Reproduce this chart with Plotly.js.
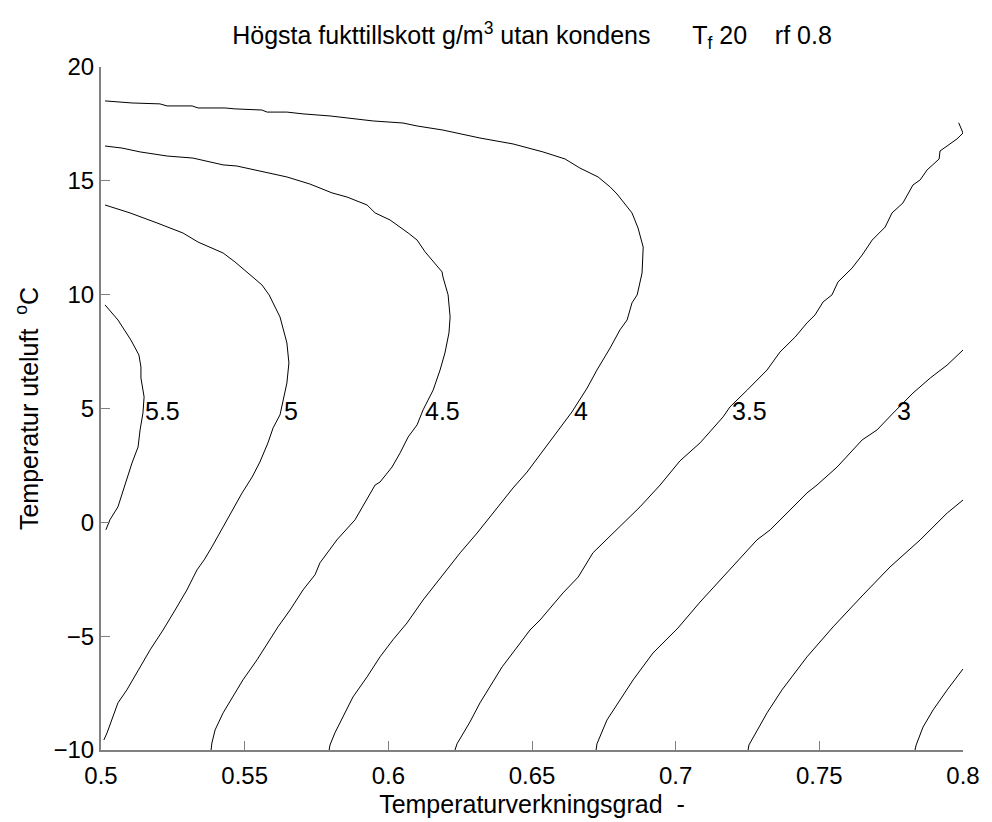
<!DOCTYPE html>
<html>
<head>
<meta charset="utf-8">
<script src="https://cdn.plot.ly/plotly-3.0.1.min.js"></script>
<style>
html,body{margin:0;padding:0;background:#fff;}
#chart{width:992px;height:822px;}
</style>
</head>
<body>
<div id="chart"></div>
<script>
// Contour levels (g/m3) and their traced paths: x = Temperaturverkningsgrad, y = Temperatur uteluft (°C)
const levels = [5.5, 5, 4.5, 4, 3.5, 3, 2.5, 2];

const c55_x = [0.5014,0.5059,0.5104,0.5132,0.5139,0.5139,0.5150,0.5146,0.5136,0.5129,0.5108,0.5097,0.5077,0.5059,0.5031,0.5017];
const c55_y = [9.55,8.89,8.01,7.35,6.82,6.34,5.51,4.80,4.06,3.31,2.61,2.17,1.33,0.68,0.11,-0.33];

const c50_x = [0.5014,0.5101,0.5195,0.5285,0.5338,0.5425,0.5466,0.5519,0.5560,0.5585,0.5623,0.5647,0.5654,0.5647,0.5633,0.5623,0.5599,0.5581,0.5553,0.5526,0.5491,0.5459,0.5425,0.5386,0.5359,0.5334,0.5299,0.5258,0.5216,0.5171,0.5129,0.5090,0.5059,0.5042,0.5021,0.5010];
const c50_y = [13.94,13.59,13.15,12.71,12.31,11.83,11.44,10.87,10.43,9.99,9.02,7.88,7.00,6.12,5.38,4.72,4.15,3.49,2.65,1.99,1.29,0.54,-0.20,-1.08,-1.65,-2.09,-2.97,-3.85,-4.73,-5.60,-6.48,-7.36,-7.93,-8.55,-9.25,-9.56];

const c45_x = [0.5014,0.5073,0.5136,0.5230,0.5320,0.5425,0.5473,0.5647,0.5727,0.5804,0.5856,0.5926,0.5954,0.6006,0.6069,0.6100,0.6128,0.6156,0.6187,0.6190,0.6208,0.6215,0.6211,0.6197,0.6180,0.6156,0.6121,0.6100,0.6069,0.6041,0.6013,0.5971,0.5954,0.5884,0.5821,0.5762,0.5745,0.5703,0.5658,0.5616,0.5581,0.5543,0.5494,0.5459,0.5425,0.5397,0.5386,0.5383];
const c45_y = [16.53,16.44,16.27,16.09,16.00,15.70,15.65,15.17,14.86,14.47,14.29,13.94,13.59,13.28,12.71,12.40,11.88,11.44,11.00,10.78,9.99,9.02,8.32,7.44,6.69,5.81,4.94,4.28,3.75,3.05,2.43,1.77,1.64,0.11,-0.77,-1.78,-2.30,-2.97,-3.85,-4.59,-5.30,-6.04,-6.92,-7.67,-8.37,-9.12,-9.69,-10.0];

const c40_x = [0.5014,0.5073,0.5108,0.5205,0.5230,0.5317,0.5338,0.5432,0.5466,0.5560,0.5578,0.5647,0.5703,0.5797,0.5856,0.5947,0.6051,0.6100,0.6190,0.6319,0.6434,0.6538,0.6615,0.6667,0.6730,0.6772,0.6796,0.6848,0.6869,0.6887,0.6883,0.6866,0.6848,0.6831,0.6806,0.6772,0.6726,0.6692,0.6639,0.6587,0.6535,0.6483,0.6434,0.6364,0.6309,0.6250,0.6180,0.6121,0.6065,0.6016,0.5971,0.5926,0.5877,0.5842,0.5814,0.5797,0.5794];
const c40_y = [18.51,18.46,18.42,18.38,18.29,18.29,18.20,18.20,18.16,18.11,18.02,18.02,17.94,17.85,17.76,17.63,17.54,17.41,17.23,16.88,16.62,16.27,15.96,15.56,15.17,14.73,14.42,13.59,12.93,12.09,10.95,9.99,9.64,8.89,8.45,7.66,6.69,5.90,4.85,3.97,3.09,2.21,1.51,0.41,-0.47,-1.34,-2.44,-3.41,-4.42,-5.16,-5.91,-6.79,-7.67,-8.55,-9.25,-9.78,-10.0];

const c35_x = [0.7985,0.8000,0.7979,0.7920,0.7917,0.7875,0.7851,0.7826,0.7791,0.7753,0.7729,0.7684,0.7649,0.7614,0.7565,0.7544,0.7513,0.7485,0.7457,0.7416,0.7363,0.7318,0.7249,0.7189,0.7165,0.7085,0.7015,0.6946,0.6876,0.6782,0.6712,0.6661,0.6608,0.6528,0.6493,0.6441,0.6396,0.6319,0.6284,0.6239,0.6232];
const c35_y = [17.55,17.10,16.84,16.31,15.96,15.48,15.04,14.82,14.03,13.59,12.97,12.40,11.74,11.17,10.56,9.99,9.68,9.11,8.76,8.14,7.48,6.69,5.81,5.07,4.63,3.49,2.70,1.64,0.68,-0.47,-1.34,-2.40,-3.10,-4.29,-4.73,-5.60,-6.35,-7.93,-8.77,-9.73,-10.0];

const c30_x = [0.8000,0.7945,0.7886,0.7826,0.7757,0.7701,0.7649,0.7562,0.7492,0.7457,0.7398,0.7329,0.7283,0.7214,0.7130,0.7085,0.7008,0.6921,0.6852,0.6761,0.6726,0.6723];
const c30_y = [7.57,6.91,6.34,5.68,4.80,4.06,3.62,2.43,1.64,1.29,0.54,-0.33,-0.77,-1.74,-2.88,-3.50,-4.64,-5.74,-6.92,-8.68,-9.73,-10.0];

const c25_x = [0.8000,0.7945,0.7851,0.7746,0.7652,0.7548,0.7457,0.7370,0.7318,0.7255,0.7252];
const c25_y = [0.98,0.41,-0.77,-1.96,-3.19,-4.59,-5.91,-7.36,-8.37,-9.78,-10.0];

const c20_x = [0.8000,0.7945,0.7896,0.7861,0.7837,0.7833];
const c20_y = [-6.44,-7.36,-8.24,-8.99,-9.78,-10.0];

// Contour labels (inline text)
const labelText = ["5.5", "5", "4.5", "4", "3.5", "3"];
const labelX = [0.5146, 0.5630, 0.6121, 0.6639, 0.7189, 0.7764];
const labelY = [4.9, 4.9, 4.9, 4.9, 4.9, 4.9];

// Axis ticks
const xTickVals = [0.5, 0.55, 0.6, 0.65, 0.7, 0.75, 0.8];
const xTickText = ["0.5", "0.55", "0.6", "0.65", "0.7", "0.75", "0.8"];
const yTickVals = [-10, -5, 0, 5, 10, 15, 20];
const yTickText = ["\u221210", "\u22125", "0", "5", "10", "15", "20"];

const paths = [[c55_x,c55_y],[c50_x,c50_y],[c45_x,c45_y],[c40_x,c40_y],[c35_x,c35_y],[c30_x,c30_y],[c25_x,c25_y],[c20_x,c20_y]];

const traces = paths.map((p, i) => ({
  type: 'scatter', mode: 'lines', x: p[0], y: p[1],
  name: String(levels[i]),
  line: {color: '#000000', width: 1},
  hoverinfo: 'skip', showlegend: false
}));

const FONT = 'Liberation Sans, Arial, Helvetica, sans-serif';

const annotations = labelText.map((t, i) => ({
  x: labelX[i], y: labelY[i], xref: 'x', yref: 'y',
  text: t, showarrow: false, xanchor: 'left', yanchor: 'middle',
  font: {family: FONT, size: 25, color: '#000'}
}));

const nb = '\u00a0';
const layout = {
  width: 992, height: 822,
  paper_bgcolor: '#ffffff', plot_bgcolor: '#ffffff',
  margin: {l: 101, r: 29, t: 67, b: 72},
  showlegend: false,
  font: {family: FONT, color: '#000'},
  title: {
    text: 'Högsta fukttillskott g/m<sup>3</sup> utan kondens' + nb.repeat(6) + 'T<sub>f</sub> 20' + nb.repeat(4) + 'rf 0.8',
    font: {family: FONT, size: 25, color: '#000'},
    xref: 'paper', x: 0.5, xanchor: 'center',
    yref: 'container', y: 0.957, yanchor: 'middle'
  },
  xaxis: {
    range: [0.5, 0.8], tickvals: xTickVals, ticktext: xTickText,
    showgrid: false, zeroline: false,
    showline: true, linecolor: '#808080', linewidth: 2,
    ticks: 'inside', ticklen: 9, tickwidth: 1, tickcolor: '#808080',
    ticklabelstandoff: 3,
    tickfont: {family: FONT, size: 24, color: '#000'},
    title: {text: 'Temperaturverkningsgrad' + nb + nb + '-', font: {family: FONT, size: 25, color: '#000'}, standoff: 8}
  },
  yaxis: {
    range: [-10, 20], tickvals: yTickVals, ticktext: yTickText,
    showgrid: false, zeroline: false,
    showline: true, linecolor: '#808080', linewidth: 2,
    ticks: 'inside', ticklen: 9, tickwidth: 1, tickcolor: '#808080',
    tickfont: {family: FONT, size: 24, color: '#000'},
    title: {text: 'Temperatur uteluft' + nb + nb + '<sup>o</sup>C', font: {family: FONT, size: 25, color: '#000'}, standoff: 8}
  },
  annotations: annotations
};

Plotly.newPlot('chart', traces, layout, {staticPlot: true, displayModeBar: false});
</script>
</body>
</html>
